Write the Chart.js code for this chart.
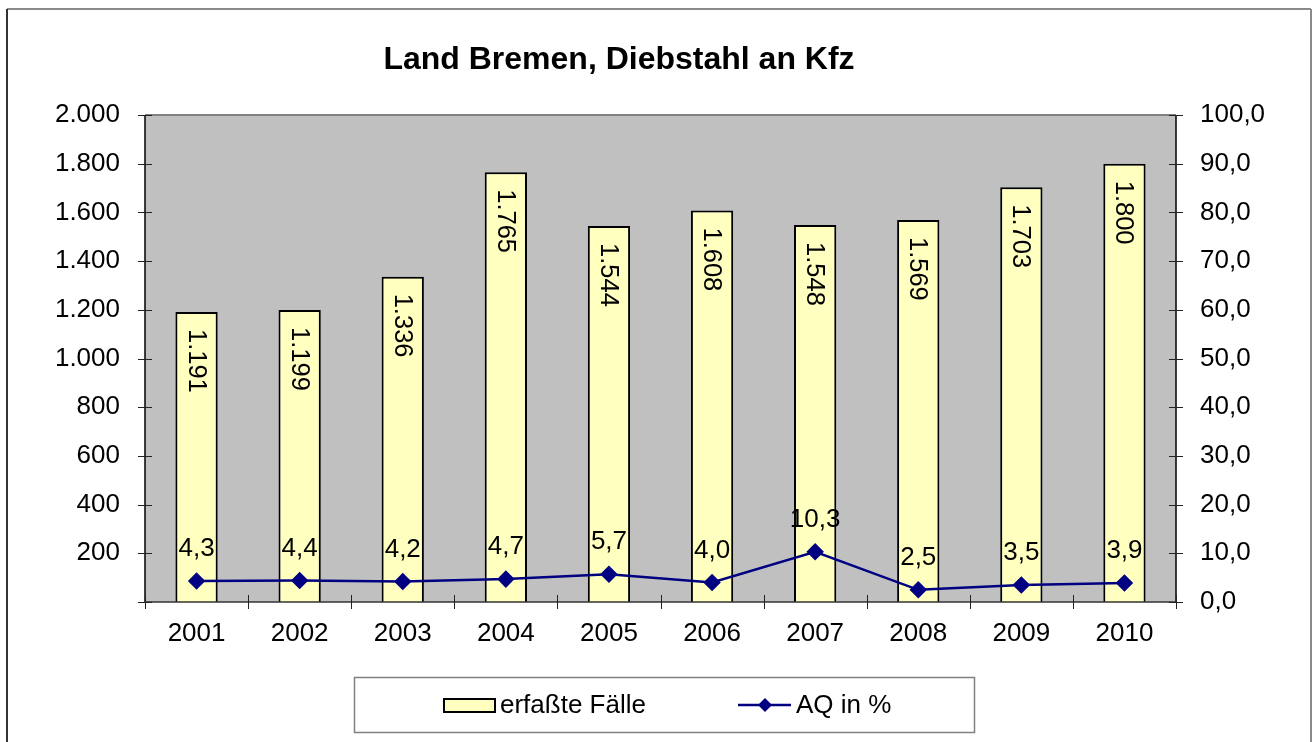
<!DOCTYPE html>
<html>
<head>
<meta charset="utf-8">
<script src="https://cdn.jsdelivr.net/npm/chart.js@4/dist/chart.umd.min.js"></script>
<style>
  html,body{margin:0;padding:0;background:#fff;}
  #wrap{position:relative;width:1314px;height:742px;}
</style>
</head>
<body>
<div id="wrap"><canvas id="c" width="1314" height="742"></canvas></div>
<script>
const title = 'Land Bremen, Diebstahl an Kfz';
const years = ['2001','2002','2003','2004','2005','2006','2007','2008','2009','2010'];
const cases = [1191, 1199, 1336, 1765, 1544, 1608, 1548, 1569, 1703, 1800];
const aqPercent = [4.3, 4.4, 4.2, 4.7, 5.7, 4.0, 10.3, 2.5, 3.5, 3.9];
const seriesNames = ['erfaßte Fälle', 'AQ in %'];

const FONT = '"Liberation Sans", Arial, sans-serif';
const FS = 26;
const fmtThousands = v => String(Math.round(v)).replace(/\B(?=(\d{3})+(?!\d))/g, '.');
const fmtDec = v => v.toFixed(1).replace('.', ',');

const excelPlugin = {
  id: 'excel',
  beforeDatasetsDraw(chart) {
    const {ctx, chartArea: a} = chart;
    ctx.save();
    ctx.fillStyle = '#C0C0C0';
    ctx.fillRect(a.left, a.top, a.right - a.left, a.bottom - a.top);
    ctx.strokeStyle = '#808080';
    ctx.lineWidth = 2;
    ctx.beginPath();
    ctx.moveTo(a.left, a.top); ctx.lineTo(a.right, a.top);
    ctx.stroke();
    ctx.restore();
  },
  afterDatasetsDraw(chart) {
    const {ctx, chartArea: a, scales} = chart;
    ctx.save();
    ctx.strokeStyle = '#000';
    ctx.lineWidth = 1.5;
    ctx.beginPath();
    ctx.moveTo(a.left, a.top); ctx.lineTo(a.left, a.bottom);
    ctx.moveTo(a.right, a.top); ctx.lineTo(a.right, a.bottom);
    ctx.stroke();
    ctx.strokeStyle = '#333';
    ctx.beginPath();
    ctx.moveTo(a.left, a.bottom); ctx.lineTo(a.right, a.bottom);
    ctx.stroke();
    ctx.lineWidth = 1;
    ctx.strokeStyle = '#222';
    ctx.beginPath();
    scales.y.ticks.forEach(t => {
      const y = Math.round(scales.y.getPixelForValue(t.value)) + 0.5;
      ctx.moveTo(a.left - 7, y); ctx.lineTo(a.left + 7, y);
    });
    scales.y1.ticks.forEach(t => {
      const y = Math.round(scales.y1.getPixelForValue(t.value)) + 0.5;
      ctx.moveTo(a.right - 7, y); ctx.lineTo(a.right + 7, y);
    });
    const n = years.length;
    for (let i = 0; i <= n; i++) {
      const x = Math.round(a.left + (a.right - a.left) * i / n) + 0.5;
      ctx.moveTo(x, a.bottom - 7); ctx.lineTo(x, a.bottom + 7);
    }
    ctx.stroke();
    ctx.restore();
  },
  afterDraw(chart) {
    const {ctx} = chart;
    ctx.save();
    const barMeta = chart.getDatasetMeta(0);
    ctx.fillStyle = '#000';
    ctx.font = '25.5px ' + FONT;
    barMeta.data.forEach((el, i) => {
      ctx.save();
      ctx.translate(el.x, el.y + 17);
      ctx.rotate(Math.PI / 2);
      ctx.textAlign = 'left';
      ctx.textBaseline = 'middle';
      ctx.fillText(fmtThousands(cases[i]), 0, 1);
      ctx.restore();
    });
    const lineMeta = chart.getDatasetMeta(1);
    ctx.font = FS + 'px ' + FONT;
    ctx.textAlign = 'center';
    ctx.textBaseline = 'middle';
    lineMeta.data.forEach((el, i) => {
      ctx.fillText(fmtDec(aqPercent[i]), el.x, el.y - 32);
    });
    ctx.font = 'bold 32px ' + FONT;
    ctx.fillText(title, 619, 60);
    ctx.strokeStyle = '#808080';
    ctx.lineWidth = 1.5;
    ctx.strokeRect(354.5, 677.5, 620, 55);
    ctx.fillStyle = '#FFFFC0';
    ctx.fillRect(444, 699, 51, 13);
    ctx.strokeStyle = '#000';
    ctx.lineWidth = 2;
    ctx.strokeRect(444, 699, 51, 13);
    ctx.fillStyle = '#000';
    ctx.font = FS + 'px ' + FONT;
    ctx.textAlign = 'left';
    ctx.fillText(seriesNames[0], 500, 706);
    ctx.strokeStyle = '#000080';
    ctx.lineWidth = 2.5;
    ctx.beginPath();
    ctx.moveTo(738, 705); ctx.lineTo(791, 705);
    ctx.stroke();
    ctx.fillStyle = '#000080';
    ctx.beginPath();
    ctx.moveTo(765, 698); ctx.lineTo(772, 705); ctx.lineTo(765, 712); ctx.lineTo(758, 705);
    ctx.closePath(); ctx.fill();
    ctx.fillStyle = '#000';
    ctx.fillText(seriesNames[1], 796, 706);
    ctx.lineWidth = 2;
    ctx.strokeStyle = '#8a8a8a';
    ctx.beginPath();
    ctx.moveTo(7, 9); ctx.lineTo(1311, 9);
    ctx.moveTo(1311, 9); ctx.lineTo(1311, 742);
    ctx.stroke();
    ctx.strokeStyle = '#333';
    ctx.beginPath();
    ctx.moveTo(7, 9); ctx.lineTo(7, 742);
    ctx.stroke();
    ctx.restore();
  }
};

new Chart(document.getElementById('c'), {
  type: 'bar',
  data: {
    labels: years,
    datasets: [
      {
        type: 'bar',
        label: seriesNames[0],
        data: cases,
        yAxisID: 'y',
        backgroundColor: '#FFFFC0',
        borderColor: '#000',
        borderWidth: 2,
        barPercentage: 0.41,
        categoryPercentage: 1,
        order: 2
      },
      {
        type: 'line',
        label: seriesNames[1],
        data: aqPercent,
        yAxisID: 'y1',
        borderColor: '#000080',
        backgroundColor: '#000080',
        borderWidth: 2.5,
        pointStyle: 'rectRot',
        pointRadius: 7,
        pointHoverRadius: 7,
        pointBackgroundColor: '#000080',
        pointBorderColor: '#000080',
        tension: 0,
        order: 1
      }
    ]
  },
  options: {
    responsive: false,
    animation: false,
    events: [],
    layout: {padding: {top: 115, bottom: 0, left: 0, right: 0}},
    plugins: {legend: {display: false}, title: {display: false}, tooltip: {enabled: false}},
    scales: {
      x: {
        grid: {display: false, drawTicks: false},
        border: {display: false},
        ticks: {color: '#000', font: {family: FONT, size: FS}, padding: 16, maxRotation: 0},
        afterFit(s) { s.height = 140; }
      },
      y: {
        position: 'left',
        min: 0, max: 2000,
        grid: {display: false, drawTicks: false},
        border: {display: false},
        ticks: {stepSize: 200, color: '#000', font: {family: FONT, size: FS}, padding: 25,
          callback: v => v === 0 ? '' : fmtThousands(v)},
        afterFit(s) { s.width = 145; }
      },
      y1: {
        position: 'right',
        min: 0, max: 100,
        grid: {display: false, drawTicks: false},
        border: {display: false},
        ticks: {stepSize: 10, color: '#000', font: {family: FONT, size: FS}, padding: 24,
          callback: v => fmtDec(v)},
        afterFit(s) { s.width = 138; }
      }
    }
  },
  plugins: [excelPlugin]
});
</script>
</body>
</html>
